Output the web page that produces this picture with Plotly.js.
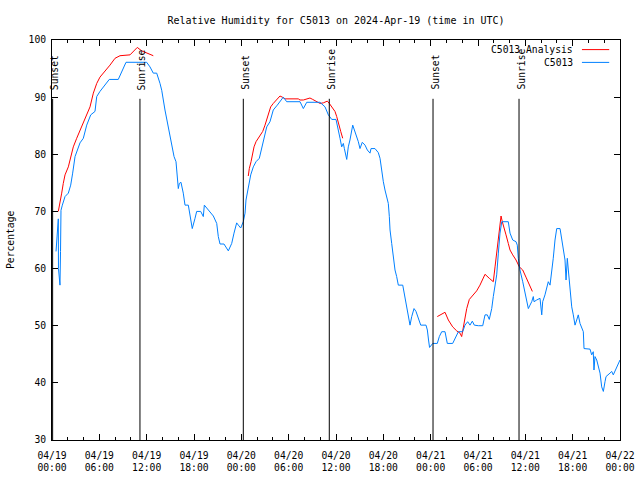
<!DOCTYPE html>
<html>
<head>
<meta charset="utf-8">
<script src="https://cdn.plot.ly/plotly-3.0.1.min.js"></script>
<style>html,body{margin:0;padding:0;background:#fff;}#chart{width:640px;height:480px;}</style>
</head>
<body>
<div id="chart"></div>
<script>
// Hours since 2024-04-19 00:00 UTC
const obsHours = [0.51,0.67,0.80,0.82,1.01,1.08,1.14,1.31,1.65,2.07,2.37,2.62,2.92,3.55,3.97,4.40,4.91,5.45,5.67,6.08,6.72,7.26,8.40,8.84,9.38,12.00,12.42,12.84,13.27,13.69,13.91,14.32,14.74,15.17,15.47,15.72,15.93,16.01,16.14,16.35,16.64,16.86,17.28,17.49,17.78,18.13,18.34,18.85,19.18,19.31,19.81,20.45,20.88,21.08,21.30,21.80,22.35,22.78,23.07,23.41,23.62,23.92,24.25,24.47,24.59,24.88,25.19,25.52,25.86,26.28,26.58,26.87,27.22,27.63,27.85,28.05,28.56,28.99,29.32,29.75,31.44,31.86,32.29,33.97,34.61,35.03,35.46,36.00,36.29,36.51,36.72,36.93,37.06,37.36,37.56,37.77,38.12,38.41,38.83,39.04,39.33,39.68,39.97,40.31,40.44,40.94,41.36,41.58,41.79,42.00,42.21,42.43,42.63,42.76,42.85,43.06,43.27,43.48,43.69,43.90,44.46,44.75,44.96,45.17,45.38,45.60,45.89,46.14,46.43,46.74,47.41,47.58,47.73,47.86,48.26,48.84,49.10,49.40,49.82,50.03,50.11,50.79,51.09,51.51,52.06,52.35,52.69,52.99,53.28,53.53,54.04,54.60,54.89,55.18,55.43,55.74,55.94,56.16,56.37,56.58,56.79,57.01,57.84,58.06,58.40,58.82,58.98,59.11,59.32,59.67,59.96,60.17,60.38,60.59,60.81,61.01,61.10,61.44,61.86,62.08,62.20,62.49,62.71,62.91,63.13,63.34,63.54,63.76,63.98,64.40,64.61,64.82,65.03,65.16,65.32,65.45,65.67,65.88,66.08,66.30,66.51,66.71,66.93,67.35,67.44,67.98,68.20,68.41,68.61,68.70,68.83,69.05,69.25,69.47,69.68,69.89,70.10,70.23,70.73,70.95,71.15,71.36,71.78,72.00];
const obsRH = [63.0,66.0,68.7,60.0,57.1,63.0,70.2,71.1,72.6,73.2,74.6,76.7,79.6,82.0,82.8,85.1,86.9,87.5,90.1,91.0,92.1,93.1,93.1,94.5,96.1,96.1,95.3,94.2,94.2,92.4,91.2,87.75,84.8,81.3,79.6,78.7,76.1,74.0,74.9,75.1,73.2,71.1,71.1,69.4,67.0,68.8,70.0,70.0,69.1,71.1,70.25,69.2,67.9,65.6,64.3,64.3,63.1,64.4,66.2,68.0,67.6,67.1,68.2,69.7,72.0,74.3,76.4,77.8,78.7,79.3,81.0,83.1,84.8,85.7,86.9,87.75,88.6,89.5,90.0,89.2,89.2,88.0,89.1,89.1,88.3,86.9,86.1,86.1,84.5,82.8,81.3,81.9,81.0,79.1,81.3,82.5,85.1,84.0,82.2,81.0,82.1,81.6,80.75,80.2,81.0,81.0,80.3,79.3,77.0,75.2,73.75,72.3,71.4,69.1,66.75,64.4,62.1,59.75,58.6,57.1,57.1,54.8,53.0,51.6,50.1,51.6,53.0,52.5,51.3,50.1,50.1,49.25,47.5,46.2,46.9,46.9,48.1,48.95,48.95,47.6,46.9,46.9,47.8,48.95,48.95,50.1,50.7,50.1,50.8,50.1,50.0,50.0,51.9,51.9,51.1,53.0,55.1,56.8,58.9,62.7,66.2,68.2,68.2,66.2,65.0,64.7,64.1,61.8,59.75,57.7,56.0,54.5,53.0,53.6,54.2,55.1,54.2,54.5,54.8,51.9,54.2,55.4,56.6,57.7,57.1,59.2,61.8,65.0,67.0,67.0,65.0,63.25,61.5,58.0,61.8,59.75,55.7,53.3,51.9,50.1,51.0,51.9,50.4,48.95,46.0,46.0,45.9,44.9,45.45,42.25,44.6,44.0,42.8,41.7,39.3,38.5,40.2,41.1,41.7,42.0,41.4,42.0,43.1,44.0];

// Analysis series (null = gap between analysis runs)
const anaHours = [0.80,1.01,1.23,1.43,1.65,2.07,2.37,2.70,3.13,3.55,3.97,4.40,4.82,5.24,5.67,6.08,6.72,7.35,7.99,8.62,9.89,10.81,11.37,12.00,12.84,null,
  24.88,25.01,25.23,25.44,25.61,25.86,26.15,26.46,26.71,27.00,27.22,27.42,27.72,28.05,28.48,28.90,29.19,29.54,31.22,31.44,31.86,32.29,32.70,33.05,33.55,33.97,34.39,34.90,35.15,35.46,35.87,36.09,36.34,36.60,36.85,null,
  48.84,49.18,49.82,50.24,50.79,51.30,51.72,51.93,52.14,52.35,52.57,52.90,53.40,53.83,54.25,54.60,54.89,55.43,55.94,56.16,56.37,56.58,56.79,56.92,57.08,57.30,57.55,57.84,58.06,58.40,58.82,59.24,59.67,60.08,60.51,60.89];
const anaRH = [70.0,71.4,73.2,74.9,76.4,77.8,79.6,81.3,82.8,84.25,85.7,86.9,88.3,90.7,92.4,93.5,94.5,95.6,96.8,97.25,97.4,98.7,98.1,97.7,97.25,null,
  76.2,77.5,78.7,80.2,81.3,82.2,82.8,83.4,84.0,85.1,86.0,87.2,88.3,88.9,89.6,90.2,90.0,89.7,89.7,89.5,89.5,89.7,89.85,89.6,89.2,88.9,89.0,89.3,88.9,88.3,87.5,86.6,85.1,84.0,82.8,null,
  51.6,51.9,52.35,51.0,49.8,49.1,48.7,48.1,49.8,51.6,53.0,54.6,55.4,56.1,57.1,58.0,59.0,58.3,57.7,60.3,62.7,65.0,67.3,69.2,68.2,67.3,65.9,64.4,63.25,62.4,61.5,60.3,59.75,58.5,57.1,56.0];

const sunHours = [0.08,11.15,24.25,35.15,48.3,59.2];
const sunLabels = ['Sunset','Sunrise','Sunset','Sunrise','Sunset','Sunrise'];

const xTickHours = [0,6,12,18,24,30,36,42,48,54,60,66,72];
const xTickLabels = ['04/19<br>00:00','04/19<br>06:00','04/19<br>12:00','04/19<br>18:00','04/20<br>00:00','04/20<br>06:00','04/20<br>12:00','04/20<br>18:00','04/21<br>00:00','04/21<br>06:00','04/21<br>12:00','04/21<br>18:00','04/22<br>00:00'];

const seriesNames = ['C5013 Analysis','C5013'];
const seriesColors = ['#ff0000','#0080ff'];

const t0 = Date.UTC(2024,3,19,0,0,0);
const toT = h => (h === null ? null : t0 + h*3600000);

const FONT = 'DejaVu Sans Mono, Liberation Mono, monospace';
const FS = 9.7;

const traces = [
  {x: anaHours.map(toT), y: anaRH, type:'scatter', mode:'lines', name: seriesNames[0],
   line:{color: seriesColors[0], width:1}, connectgaps:false, showlegend:false},
  {x: obsHours.map(toT), y: obsRH, type:'scatter', mode:'lines', name: seriesNames[1],
   line:{color: seriesColors[1], width:1}, showlegend:false}
];

const shapes = [];
const annotations = [];
sunHours.forEach((h,i) => {
  shapes.push({type:'line', xref:'x', yref:'paper', x0: toT(h), x1: toT(h), y0:0, y1:0.853,
    line:{color:'#000', width:1}});
  annotations.push({xref:'x', yref:'paper', x: toT(h), y: 0.87, text: sunLabels[i], showarrow:false,
    textangle:-90, xanchor:'center', yanchor:'bottom', xshift:2, font:{family:FONT, size:FS, color:'#000'}});
});

// Manual legend (text right, sample line on right like the reference)
const legY = [0.976, 0.944];
seriesNames.forEach((n,i) => {
  annotations.push({xref:'paper', yref:'paper', x:0.921, y:legY[i], text:n, showarrow:false,
    xanchor:'right', yanchor:'middle', font:{family:FONT, size:FS, color:'#000'}});
  shapes.push({type:'line', xref:'paper', yref:'paper', x0:0.933, x1:0.981, y0:legY[i], y1:legY[i],
    line:{color:seriesColors[i], width:1}});
});

// Y axis title
annotations.push({xref:'paper', yref:'paper', x:-0.074, y:0.5, text:'Percentage', showarrow:false,
  textangle:-90, xanchor:'center', yanchor:'middle', font:{family:FONT, size:FS, color:'#000'}});

const layout = {
  width:640, height:480,
  margin:{l:52, r:20, t:40, b:40, pad:0},
  paper_bgcolor:'#fff', plot_bgcolor:'#fff',
  font:{family:FONT, size:FS, color:'#000'},
  title:{text:'Relative Humidity for C5013 on 2024-Apr-19 (time in UTC)', x:0.5, xref:'paper',
    y:1-20/480, yref:'container', yanchor:'middle', font:{family:FONT, size:10, color:'#000'}},
  xaxis:{type:'date', range:[toT(0), toT(72)], tickvals: xTickHours.map(toT), ticktext: xTickLabels,
    ticks:'inside', ticklen:6, tickcolor:'#000', showline:true, linecolor:'#000', linewidth:1,
    mirror:'ticks', showgrid:false, zeroline:false, fixedrange:true, ticklabelstandoff:6,
    minor:{dtick: 2*3600000, tick0: toT(0), ticks:'inside', ticklen:3, tickcolor:'#000', showgrid:false},
    tickfont:{family:FONT, size:FS, color:'#000'}},
  yaxis:{range:[30,100], dtick:10, tick0:30, ticks:'inside', ticklen:6, tickcolor:'#000',
    showline:true, linecolor:'#000', linewidth:1, mirror:'ticks', showgrid:false, zeroline:false,
    ticklabelstandoff:3,
    tickfont:{family:FONT, size:FS, color:'#000'}},
  shapes: shapes,
  annotations: annotations,
  showlegend:false
};

Plotly.newPlot('chart', traces, layout, {staticPlot:true, displayModeBar:false});
</script>
</body>
</html>
